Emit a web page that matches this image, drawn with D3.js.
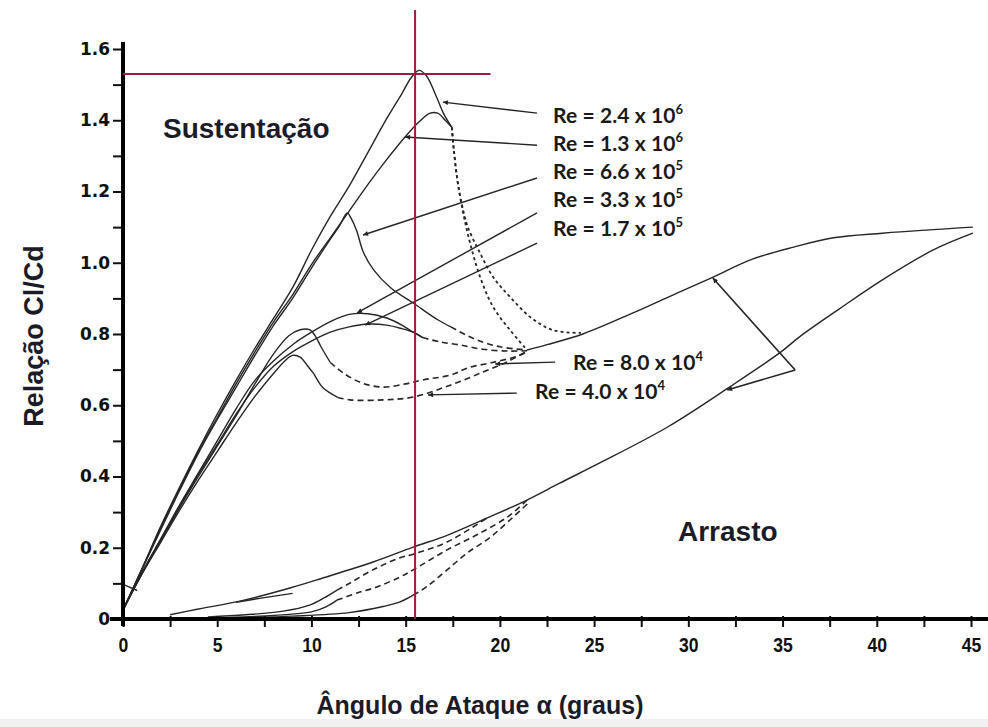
<!DOCTYPE html>
<html>
<head>
<meta charset="utf-8">
<script src="https://cdn.jsdelivr.net/npm/d3@7"></script>
<style>
  body { margin: 0; background: #fff; }
  svg { display: block; }
</style>
</head>
<body>
<div id="chart"></div>
<script>
// Axis ticks
var xTicks = d3.range(0, 45.01, 2.5);
var xTickLabels = ['0', '5', '10', '15', '20', '25', '30', '35', '40', '45'];
var yTicks = d3.range(0, 1.601, 0.1);
var yTickLabels = ['0', '0.2', '0.4', '0.6', '0.8', '1.0', '1.2', '1.4', '1.6'];

// Lift curves (solid part), [angle, value]
var lift24e6 = [[0,0.025],[1,0.14],[2,0.26],[3,0.37],[4,0.475],[5,0.575],[6,0.67],[7,0.76],[8,0.845],[9,0.93],[10,1.035],[11,1.13],[12,1.215],[13,1.31],[14,1.405],[14.8,1.475],[15.3,1.52],[15.7,1.54],[16.1,1.525],[16.6,1.47],[17.0,1.42],[17.45,1.38]];
var lift13e6 = [[0,0.025],[1,0.14],[2,0.255],[3,0.365],[4,0.47],[5,0.565],[6,0.66],[7,0.75],[8,0.835],[9,0.91],[10,0.995],[11,1.07],[12,1.145],[13,1.22],[14,1.29],[15,1.355],[15.7,1.395],[16.3,1.42],[16.7,1.42],[17.1,1.4],[17.45,1.38]];
var lift66e5 = [[0,0.025],[1,0.138],[2,0.25],[3,0.36],[4,0.465],[5,0.56],[6,0.65],[7,0.74],[8,0.825],[9,0.9],[10,0.985],[10.8,1.05],[11.5,1.105],[11.9,1.14],[12.1,1.125],[12.4,1.09],[12.75,1.03],[13.3,0.98],[14.2,0.93],[15.4,0.887],[16.7,0.84],[17.4,0.82]];
var lift33e5 = [[0,0.025],[1,0.13],[2,0.225],[3,0.32],[4,0.41],[5,0.5],[6,0.59],[7,0.67],[8,0.725],[9,0.77],[10,0.805],[11,0.835],[12,0.855],[13,0.857],[14,0.845],[14.8,0.825],[15.4,0.805],[15.9,0.79]];
var lift17e5 = [[0,0.025],[1,0.128],[2,0.222],[3,0.315],[4,0.405],[5,0.49],[6,0.575],[7,0.65],[8,0.71],[9,0.75],[10,0.78],[11,0.805],[12,0.82],[13,0.828],[14,0.825],[14.8,0.815],[15.4,0.805],[15.9,0.79]];
var lift8e4 = [[0,0.025],[1,0.127],[2,0.22],[3,0.312],[4,0.4],[5,0.485],[6,0.57],[7,0.66],[8,0.745],[8.8,0.795],[9.4,0.812],[9.9,0.812],[10.2,0.795],[10.5,0.765],[11.0,0.72]];
var lift4e4 = [[0,0.025],[1,0.125],[2,0.215],[3,0.305],[4,0.39],[5,0.47],[6,0.55],[7,0.625],[8,0.69],[8.6,0.725],[9.0,0.74],[9.4,0.735],[9.8,0.71],[10.1,0.69],[10.6,0.65],[11.4,0.622]];
var liftHigh = [[21.44,0.755],[22.5,0.77],[24.4,0.8],[27.1,0.86],[29.4,0.915],[31.2,0.957],[33.4,1.01],[35.6,1.044],[37.7,1.07],[40.3,1.083],[45.1,1.1]];

// Lift curves (dashed part, after stall)
var dash24e6 = [[17.45,1.38],[17.55,1.32],[17.75,1.23],[18.0,1.16],[18.3,1.1],[18.95,1.027],[19.64,0.96],[20.54,0.904],[21.6,0.848],[22.8,0.811],[24.3,0.803]];
var dash13e6 = [[17.45,1.38],[17.55,1.32],[17.75,1.23],[18.05,1.14],[18.42,1.055],[18.95,0.96],[19.64,0.876],[20.54,0.811],[21.44,0.755]];
var dash66e5 = [[17.4,0.82],[18.1,0.8],[18.8,0.783],[20.0,0.764],[21.44,0.755]];
var dash33e5 = [[15.9,0.79],[16.8,0.778],[17.9,0.769],[19.1,0.757],[20.5,0.752],[21.44,0.753]];
var dash8e4 = [[11.0,0.72],[11.7,0.69],[12.7,0.662],[13.8,0.651],[15.0,0.66],[15.9,0.671],[17.4,0.685],[18.3,0.705],[19.6,0.72],[20.9,0.737],[21.44,0.75]];
var dash4e4 = [[11.4,0.622],[12.05,0.615],[13.8,0.615],[15.4,0.623],[17.4,0.657],[19.1,0.693],[20.4,0.722],[21.44,0.752]];

// Drag curves
var dragMain = [[2.5,0.012],[4,0.028],[6.2,0.05],[8.86,0.087],[10.6,0.115],[13.27,0.16],[15.4,0.202],[17.2,0.235],[19.3,0.283],[21.44,0.334],[23.2,0.382],[25.3,0.438],[28.9,0.539],[32.1,0.648],[34.9,0.749],[35.9,0.792],[38,0.87],[40.3,0.952],[43.0,1.036],[45.1,1.083]];
var dragBranch = [[6.0,0.047],[7.5,0.06],[9.0,0.072]];
var dragLowA = [[4.5,0.006],[6.5,0.012],[8.5,0.022],[9.9,0.039],[10.7,0.06],[11.36,0.081]];
var dragLowB = [[5.5,0.004],[8,0.01],[10,0.02],[10.8,0.035],[11.36,0.053]];
var dragLowC = [[6,0.003],[9,0.008],[12,0.018],[13.8,0.035],[14.7,0.048],[15.4,0.067]];
var dashDragA = [[11.36,0.081],[12.05,0.101],[12.95,0.129],[13.8,0.152],[14.7,0.172],[15.4,0.182],[17.2,0.216],[19.3,0.283]];
var dashDragB = [[11.36,0.053],[12.42,0.073],[13.48,0.09],[14.7,0.118],[15.4,0.138],[17.2,0.194],[18.95,0.241],[20.5,0.29],[21.44,0.334]];
var dashDragC = [[15.4,0.067],[16.1,0.09],[17.2,0.138],[18.26,0.185],[19.5,0.23],[20.7,0.286],[21.6,0.33]];
var originMark = [[0.1,0.095],[0.75,0.08]];

// Labels and pointers
var reMant = ['2.4', '1.3', '6.6', '3.3', '1.7', '8.0', '4.0'];
var reExp = ['6', '6', '5', '5', '5', '4', '4'];
var pointerFrom = [[21.97,1.42],[21.97,1.33],[21.97,1.238],[21.97,1.14],[21.97,1.055],[22.93,0.721],[20.9,0.634]];
var pointerTo = [[16.98,1.451],[14.97,1.353],[12.74,1.078],[12.42,0.859],[12.85,0.825],[19.75,0.716],[16.19,0.629]];
var bracket = [[31.3,0.957],[35.67,0.699],[32.06,0.643]];

// Reference (red) lines
var refAngle = 15.5;
var refRatio = 1.53;

// ----- drawing
var width = 988, height = 727;
var x = d3.scaleLinear().domain([0, 45]).range([123, 971]);
var y = d3.scaleLinear().domain([0, 1.6]).range([619, 49]);

var svg = d3.select('#chart').append('svg')
  .attr('width', width)
  .attr('height', height);

svg.append('rect')
  .attr('x', 0).attr('y', 719)
  .attr('width', width).attr('height', 8)
  .attr('fill', '#f1f1f1');

svg.append('defs').append('marker')
  .attr('id', 'arrow')
  .attr('viewBox', '0 0 10 10')
  .attr('refX', 10).attr('refY', 5)
  .attr('markerWidth', 8).attr('markerHeight', 5)
  .attr('markerUnits', 'userSpaceOnUse')
  .attr('orient', 'auto')
  .append('path')
  .attr('d', 'M0,0L10,5L0,10z')
  .attr('fill', '#222');

var line = d3.line()
  .x(function(d) { return x(d[0]); })
  .y(function(d) { return y(d[1]); })
  .curve(d3.curveCatmullRom.alpha(0.5));
var straight = d3.line()
  .x(function(d) { return x(d[0]); })
  .y(function(d) { return y(d[1]); });

var solid = [lift24e6, lift13e6, lift66e5, lift33e5, lift17e5, lift8e4, lift4e4, liftHigh,
             dragMain, dragBranch, dragLowA, dragLowB, dragLowC, originMark];
var dotted = [dash24e6, dash13e6];
var dashed = [dash66e5, dash33e5, dash8e4, dash4e4, dashDragA, dashDragB, dashDragC];

svg.append('g').selectAll('path')
  .data(solid)
  .enter().append('path')
  .attr('d', line)
  .attr('fill', 'none')
  .attr('stroke', '#262626')
  .attr('stroke-width', 1.4);

svg.append('g').selectAll('path')
  .data(dotted)
  .enter().append('path')
  .attr('d', line)
  .attr('fill', 'none')
  .attr('stroke', '#262626')
  .attr('stroke-width', 1.8)
  .attr('stroke-dasharray', '3,3');

svg.append('g').selectAll('path')
  .data(dashed)
  .enter().append('path')
  .attr('d', line)
  .attr('fill', 'none')
  .attr('stroke', '#262626')
  .attr('stroke-width', 1.6)
  .attr('stroke-dasharray', '6,4');

// pointers from labels to curves
svg.append('g').selectAll('path')
  .data(pointerFrom)
  .enter().append('path')
  .attr('d', function(d, i) { return straight([d, pointerTo[i]]); })
  .attr('fill', 'none')
  .attr('stroke', '#262626')
  .attr('stroke-width', 1.4)
  .attr('marker-end', 'url(#arrow)');

svg.append('path')
  .attr('d', straight([bracket[1], bracket[0]]))
  .attr('fill', 'none').attr('stroke', '#262626').attr('stroke-width', 1.6)
  .attr('marker-end', 'url(#arrow)');
svg.append('path')
  .attr('d', straight([bracket[1], bracket[2]]))
  .attr('fill', 'none').attr('stroke', '#262626').attr('stroke-width', 1.6)
  .attr('marker-end', 'url(#arrow)');

// axes
var xAxis = d3.axisBottom(x)
  .tickValues(xTicks)
  .tickSize(8)
  .tickSizeOuter(0)
  .tickFormat(function(d) { return d % 5 === 0 ? xTickLabels[d / 5] : ''; });
var gx = svg.append('g').attr('transform', 'translate(0,619)').call(xAxis);
gx.select('.domain').remove();
gx.selectAll('.tick line').attr('stroke', '#111').attr('stroke-width', 2).attr('y1', -3);
gx.selectAll('.tick text')
  .attr('y', 19).attr('dy', '0.71em')
  .attr('transform', 'scale(0.88,1)')
  .attr('fill', '#111')
  .style('font-family', '"Liberation Sans", Arial, sans-serif')
  .style('font-weight', 'bold')
  .style('font-size', '20px');

var yAxis = d3.axisLeft(y)
  .tickValues(yTicks)
  .tickSize(10)
  .tickSizeOuter(0)
  .tickFormat(function(d, i) { return i % 2 === 0 ? yTickLabels[i / 2] : ''; });
var gy = svg.append('g').attr('transform', 'translate(123,0)').call(yAxis);
gy.select('.domain').remove();
gy.selectAll('.tick line').attr('stroke', '#111').attr('stroke-width', 2);
gy.selectAll('.tick text')
  .attr('x', -13)
  .attr('fill', '#111')
  .style('font-family', '"DejaVu Sans", Verdana, sans-serif')
  .style('font-weight', 'bold')
  .style('font-size', '17px');

svg.append('line')
  .attr('x1', 110).attr('x2', 988)
  .attr('y1', 619).attr('y2', 619)
  .attr('stroke', '#000').attr('stroke-width', 4);
svg.append('line')
  .attr('x1', 123).attr('x2', 123)
  .attr('y1', 42).attr('y2', 626)
  .attr('stroke', '#000').attr('stroke-width', 4);

// red reference lines
svg.append('line')
  .attr('x1', x(0)).attr('x2', x(19.5))
  .attr('y1', y(refRatio)).attr('y2', y(refRatio))
  .attr('stroke', '#9e1b3c').attr('stroke-width', 2);
svg.append('line')
  .attr('x1', x(refAngle)).attr('x2', x(refAngle))
  .attr('y1', y(0)).attr('y2', 10)
  .attr('stroke', '#9e1b3c').attr('stroke-width', 2);

// Re labels
var labelPos = [[553,123],[553,151],[553,179],[553,207],[553,236],[573,370],[535,399]];
var reText = svg.append('g').selectAll('text')
  .data(reMant)
  .enter().append('text')
  .attr('x', function(d, i) { return labelPos[i][0]; })
  .attr('y', function(d, i) { return labelPos[i][1]; })
  .attr('fill', '#1a1a1a')
  .style('font-family', 'Lato, "Open Sans", sans-serif')
  .style('font-weight', 'bold')
  .style('font-size', '21px')
  .style('letter-spacing', '0.1px');
reText.append('tspan').text(function(d) { return 'Re = ' + d + ' x 10'; });
reText.append('tspan')
  .attr('dy', -9)
  .style('font-size', '13px')
  .text(function(d, i) { return reExp[i]; });

// region labels and axis titles
svg.append('text')
  .attr('x', 163).attr('y', 138)
  .attr('fill', '#1c1c28')
  .style('font-family', '"Liberation Sans", Arial, sans-serif')
  .style('font-weight', 'bold')
  .style('font-size', '28px')
  .text('Sustentação');

svg.append('text')
  .attr('x', 678).attr('y', 541)
  .attr('fill', '#1c1c28')
  .style('font-family', '"Liberation Sans", Arial, sans-serif')
  .style('font-weight', 'bold')
  .style('font-size', '28px')
  .text('Arrasto');

svg.append('text')
  .attr('transform', 'translate(43,336) rotate(-90)')
  .attr('text-anchor', 'middle')
  .attr('fill', '#1c1c28')
  .style('font-family', '"Liberation Sans", Arial, sans-serif')
  .style('font-weight', 'bold')
  .style('font-size', '27px')
  .text('Relação Cl/Cd');

svg.append('text')
  .attr('x', 480).attr('y', 714)
  .attr('text-anchor', 'middle')
  .attr('fill', '#1c1c28')
  .style('font-family', '"Liberation Sans", Arial, sans-serif')
  .style('font-weight', 'bold')
  .style('font-size', '25px')
  .text('Ângulo de Ataque α (graus)');
</script>
</body>
</html>
